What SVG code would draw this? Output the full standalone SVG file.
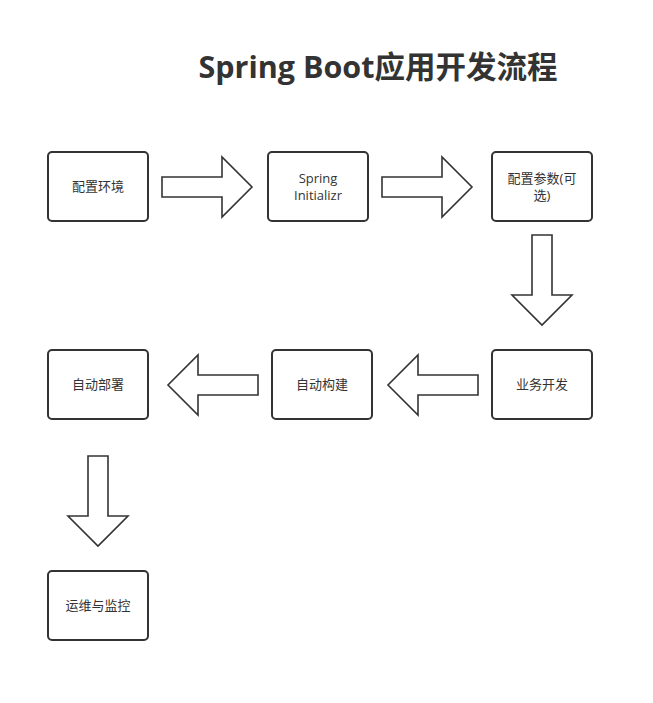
<svg xmlns="http://www.w3.org/2000/svg" width="653" height="703" viewBox="0 0 653 703">
<style>
.box{fill:#fff;stroke:#333;stroke-width:2}
.arr{fill:#fff;stroke:#333;stroke-width:1.6;stroke-linejoin:miter}
.t{font-family:"Open Sans","Noto Sans CJK SC",sans-serif;font-size:13px;fill:#333;text-anchor:middle}
.title{font-family:"Open Sans","Noto Sans CJK SC",sans-serif;font-size:30.5px;font-weight:bold;fill:#333;text-anchor:middle}
</style>
<rect width="653" height="703" fill="#fff"/>
<text class="title" x="378" y="78">Spring Boot应用开发流程</text>
<g id="connectors">
<polygon class="arr" points="162,177 222,177 222,157 252,187 222,217 222,197 162,197"/>
<polygon class="arr" points="382,177 442,177 442,157 472,187 442,217 442,197 382,197"/>
<polygon class="arr" points="532,235 552,235 552,295 572,295 542,325 512,295 532,295"/>
<polygon class="arr" points="478,375 418,375 418,355 388,385 418,415 418,395 478,395"/>
<polygon class="arr" points="258,375 198,375 198,355 168,385 198,415 198,395 258,395"/>
<polygon class="arr" points="88,456 108,456 108,516 128,516 98,546 68,516 88,516"/>
</g>
<g id="n1"><rect class="box" x="48" y="152" width="100" height="69" rx="4"/><text class="t" x="98" y="191">配置环境</text></g>
<g id="n2"><rect class="box" x="268" y="152" width="100" height="69" rx="4"/><text class="t" x="318" y="183">Spring</text><text class="t" x="318" y="200">Initializr</text></g>
<g id="n3"><rect class="box" x="492" y="152" width="100" height="69" rx="4"/><text class="t" x="542" y="183">配置参数(可</text><text class="t" x="542" y="200">选)</text></g>
<g id="n4"><rect class="box" x="492" y="350" width="100" height="69" rx="4"/><text class="t" x="542" y="389">业务开发</text></g>
<g id="n5"><rect class="box" x="272" y="350" width="100" height="69" rx="4"/><text class="t" x="322" y="389">自动构建</text></g>
<g id="n6"><rect class="box" x="48" y="350" width="100" height="69" rx="4"/><text class="t" x="98" y="389">自动部署</text></g>
<g id="n7"><rect class="box" x="48" y="571" width="100" height="69" rx="4"/><text class="t" x="98" y="610">运维与监控</text></g>
</svg>
